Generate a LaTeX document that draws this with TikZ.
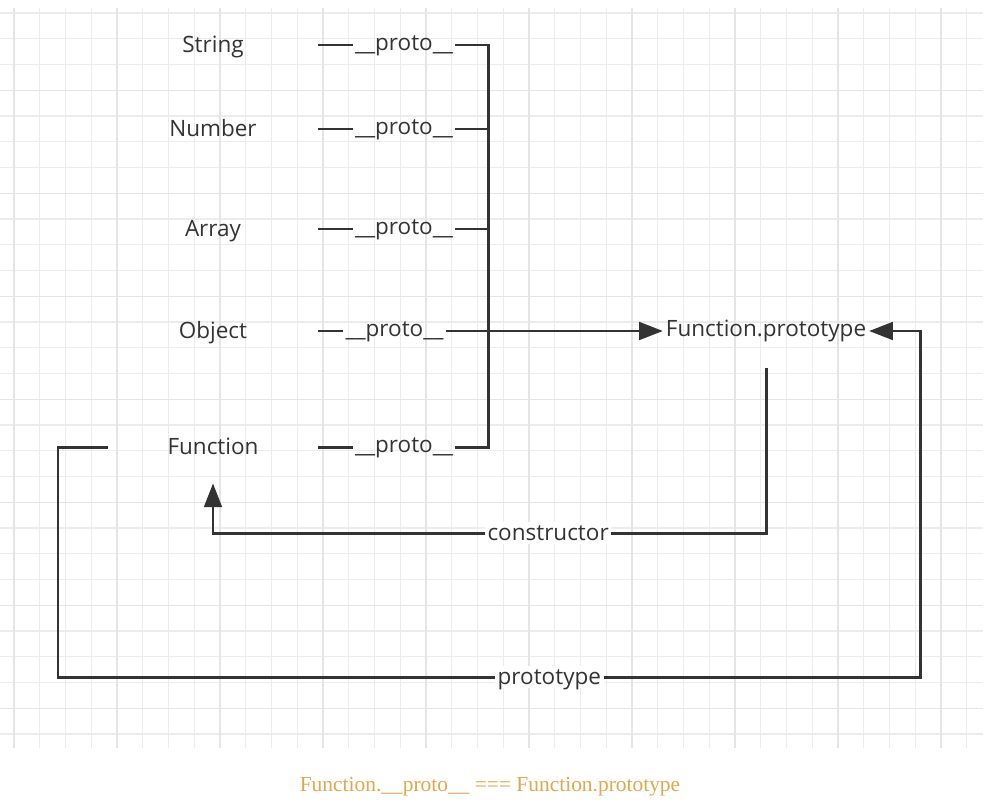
\documentclass[tikz,border=0pt]{standalone}
\usepackage{fontspec}
\newfontfamily\boxfont{Open Sans}
\newfontfamily\notefont{Liberation Serif}
\usetikzlibrary{arrows.meta}

\definecolor{inkgray}{RGB}{51,51,51}
\definecolor{gridminor}{RGB}{236,236,236}
\definecolor{gridmajor}{RGB}{229,229,229}
\definecolor{notegold}{RGB}{222,168,76}

\tikzset{
    typebox/.style={minimum width=4.2cm, minimum height=1.44cm, inner sep=0pt,
        text height=1.03em, text depth=0.15em,
        font=\boxfont\fontsize{12.8}{15}\selectfont, text=inkgray},
    protolbl/.style={inner xsep=1.2pt, inner ysep=0pt,
        text height=0.88em, text depth=0.2em,
        font=\boxfont\fontsize{12.8}{15}\selectfont, text=inkgray},
    edgelbl/.style={fill=white, inner xsep=1.5pt, inner ysep=0.5pt,
        text height=1.05em, text depth=0.15em,
        font=\boxfont\fontsize{12.8}{15}\selectfont, text=inkgray},
    link/.style={draw=inkgray, line width=1.7pt},
    tip/.style={-{Triangle[length=13.5pt,width=10pt]}},
}

\begin{document}
\begin{tikzpicture}[x=0.02cm, y=-0.02cm]
        \def\gap{25.75}
        \useasboundingbox (0,0) rectangle (1000,808);

        % background grid
        \foreach \k in {0,...,37}
            \draw[gridminor, line width=0.6pt] ({14+\gap*\k},8) -- ({14+\gap*\k},748);
        \foreach \k in {0,...,28}
            \draw[gridminor, line width=0.6pt] (0,{13+\gap*\k}) -- (983,{13+\gap*\k});
        \foreach \k in {0,4,...,36}
            \draw[gridmajor, line width=0.6pt] ({14+\gap*\k},8) -- ({14+\gap*\k},748);
        \foreach \k in {3,7,...,27}
            \draw[gridmajor, line width=0.6pt] (0,{13+\gap*\k}) -- (983,{13+\gap*\k});

        % constructors
        \node[typebox] (str) at (213,45) {String};
        \node[typebox] (num) at (213,129) {Number};
        \node[typebox] (arr) at (213,229) {Array};
        \node[typebox] (obj) at (213,331) {Object};
        \node[typebox] (fun) at (213,447) {Function};

        \node[protolbl] (p1) at (404,45) {\_\_proto\_\_};
        \node[protolbl] (p2) at (404,129) {\_\_proto\_\_};
        \node[protolbl] (p3) at (404,229) {\_\_proto\_\_};
        \node[protolbl] (p4) at (394.5,331) {\_\_proto\_\_};
        \node[protolbl] (p5) at (404,447) {\_\_proto\_\_};

        \node[typebox, minimum width=0pt, minimum height=1.48cm, inner xsep=1.5pt,
            text height=0.85em, text depth=0.2em] (fp) at (766,331) {Function.prototype};

        \coordinate (b1) at (488,45);
        \coordinate (c1) at (58,447);
        \coordinate (c2) at (920,677);
        \coordinate (c3) at (766,533);

        % __proto__ links
        \draw[link] (str) -- (p1);
        \draw[link] (num) -- (p2);
        \draw[link] (arr) -- (p3);
        \draw[link] (obj) -- (p4);
        \draw[link] (fun) -- (p5);
        \draw[link] (p1) -- (b1) |- (p5);
        \draw[link] (p2) -- (p2 -| b1);
        \draw[link] (p3) -- (p3 -| b1);
        \draw[link, tip] (p4) -- (fp);

        % constructor and prototype
        \draw[link, tip] (fp.south) -- (c3) -| node[edgelbl, pos=0.197] (cons) {constructor} (fun.south);
        \draw[link, tip] (fun.west) -- (c1) |- node[edgelbl, pos=0.785] (prot) {prototype} (c2) |- (fp);

        \node[font=\notefont\fontsize{12.2}{14}\selectfont, text=notegold] (note) at (490,787) {Function.\_\_proto\_\_ === Function.prototype};
\end{tikzpicture}
\end{document}
